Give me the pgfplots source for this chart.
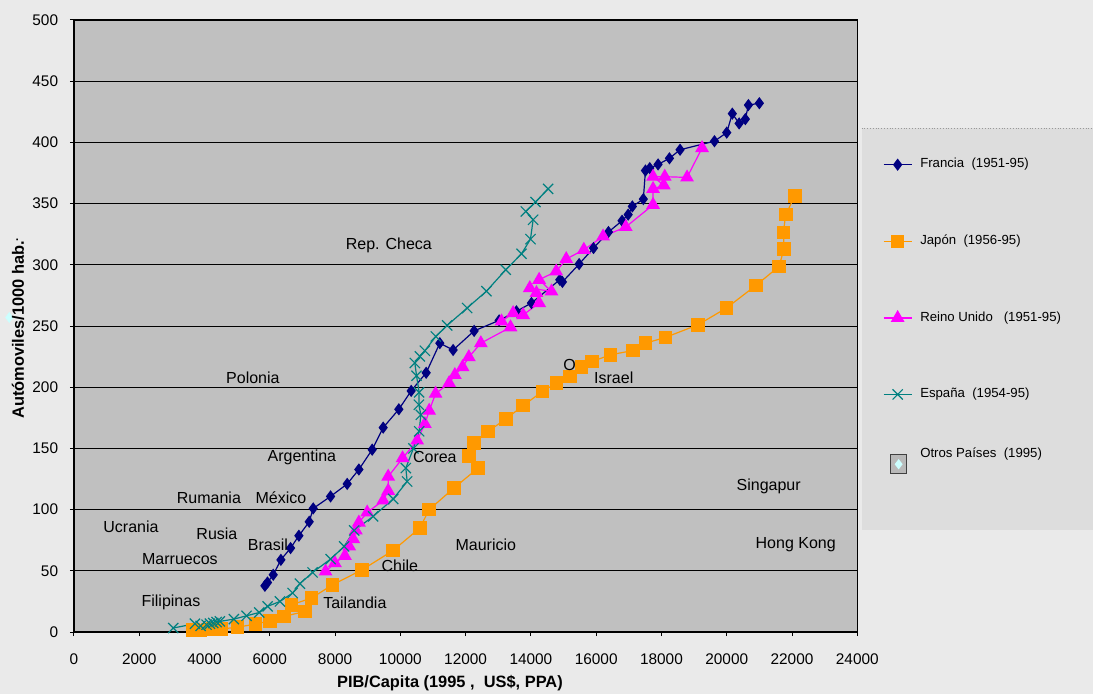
\documentclass[border=0pt]{standalone}
\usepackage{pgfplots}
\pgfplotsset{compat=1.18}
\usepackage{fontspec}
\setmainfont{Liberation Sans}
\definecolor{francia}{HTML}{000080}
\definecolor{japon}{HTML}{FF9900}
\definecolor{reino}{HTML}{FF00FF}
\definecolor{espana}{HTML}{008080}
\definecolor{otros}{HTML}{CCFFFF}
\definecolor{plotbg}{HTML}{C0C0C0}
\definecolor{outerbg}{HTML}{EAEAEA}
\definecolor{legbg}{HTML}{DDDDDD}
\begin{document}
\begin{tikzpicture}[x=1pt,y=1pt]
\fill[outerbg] (0,0) rectangle (546.5,347);
\fill[legbg] (431,82) rectangle (546.5,283);
\draw[gray!80, densely dotted, line width=0.4pt] (431,283) -- (546.5,283);
\begin{axis}[
  at={(37pt,30.85pt)}, anchor=south west,
  scale only axis, width=391.8pt, height=306.15pt,
  xmin=0, xmax=24000, ymin=0, ymax=500,
  xtick={0,2000,...,24000}, ytick={0,50,...,500},
  scaled x ticks=false,
  /pgf/number format/.cd, 1000 sep={}, assume math mode=true, /pgfplots/.cd,
  axis background/.style={fill=plotbg},
  ymajorgrids, grid style={black, line width=0.5pt},
  tick align=outside, tick pos=left, major tick length=2pt,
  tick style={black, line width=0.5pt},
  axis line style={black, line width=0.7pt},
  ticklabel style={font=\fontsize{7.7}{8}\selectfont},
  xticklabel style={yshift=-5.5pt},
  yticklabel style={xshift=-2.4pt},
  xlabel={PIB/Capita (1995 ,\ \ US\$, PPA)},
  ylabel={Autómoviles/1000 hab.\textsuperscript{.}},
  label style={font=\bfseries\fontsize{8.2}{9}\selectfont},
  xlabel style={at={(axis description cs:0.48,-0.0828)}, anchor=center},
  ylabel style={at={(axis description cs:-0.0715,0.497)}, anchor=center},
  clip=false,
  legend style={at={(1.0324,0.781)}, anchor=north west, draw=none, fill=none,
    inner sep=0pt, row sep=28pt, font=\fontsize{6.6}{7}\selectfont,
    cells={anchor=west},
    /tikz/every odd column/.append style={column sep=2pt}},
  legend image code/.code={\draw[mark repeat=2, mark phase=2, #1] plot coordinates {(0pt,0pt) (7pt,0pt) (14pt,0pt)};},
]
\addplot[francia, line width=0.6pt, mark=diamond*, mark size=2.6pt, mark options={solid, fill=francia}] coordinates {
(5850,37.8) (5930,40.5) (6105,46.8) (6340,59) (6636,68.6) (6891,78.7) (7207,90.1) (7330,101)
(7862,110.8) (8371,121) (8729,132.8) (9137,149) (9474,167) (9954,182) (10331,197) (10791,211.8)
(11210,236) (11617,230.4) (12260,246) (13026,254.6) (13557,262) (14017,268.8) (14885,287.8)
(14966,286) (15477,300.6) (15918,313.7) (16376,326.8) (16793,336) (16980,341) (17108,347.7)
(17445,353.7) (17510,377) (17642,379) (17896,382) (18245,387) (18570,394) (19624,401)
(20000,408) (20171,423.5) (20380,415.5) (20570,419) (20664,430.5) (20999,432)};
\addlegendentry{Francia\ \ (1951-95)}
\addplot[japon, line width=0.6pt, mark=square*, mark size=3.1pt, mark options={solid, fill=japon}] coordinates {
(3654,1.9) (3880,1.3) (4100,2) (4267,2.5) (4520,2.5) (5010,4) (5565,6.5) (6003,9.2) (6432,12.8)
(7075,16.8) (6667,22.3) (7279,27.8) (7923,38.6) (8831,50.9) (9780,66.7) (10597,85) (10883,100)
(11638,117.6) (12384,134) (12098,144) (12260,154.4) (12690,164) (13231,174) (13762,185)
(14355,196.6) (14784,203.4) (15191,208.8) (15550,216.5) (15874,221) (16437,226.5) (17130,230)
(17510,236) (18122,240.7) (19120,251) (19990,264.7) (20888,283) (21602,298.7) (21755,313)
(21736,326.5) (21807,341) (22083,356)};
\addlegendentry{Japón\ \ (1956-95)}
\addplot[reino, line width=0.6pt, mark=triangle*, mark size=3.4pt, mark options={solid, fill=reino}] coordinates {
(7708,49.5) (7994,56.4) (8300,62.3) (8433,70) (8556,76) (8637,83) (8729,89.5) (8984,97.7)
(9474,107.5) (9627,115.4) (9627,127) (10068,142) (10515,156.5) (10751,170) (10883,180.8)
(11079,194.7) (11495,203.4) (11670,210) (11906,216.5) (12098,224.6) (12466,236) (13375,249)
(13099,253.8) (13455,260.6) (13762,259) (14252,268.8) (14170,277) (13966,281) (14630,278.3)
(14252,287.8) (14775,294.6) (15082,304.7) (15622,312.3) (16212,323.2) (16906,330.9)
(17743,349) (17743,362) (18070,365) (17743,372) (18101,372) (18784,371.4) (19244,395.4)};
\addlegendentry{Reino Unido\ \ \ (1951-95)}
\addplot[espana, line width=0.6pt, mark=x, mark size=3.6pt, mark options={solid, line width=0.6pt}] coordinates {
(3042,3.3) (3706,6.8) (3880,5.1) (4063,6) (4165,6.8) (4267,7.4) (4370,8.2) (4471,8.7)
(4900,10.6) (5289,13.3) (5677,16) (5932,21) (6310,25) (6699,31.9) (6922,39.5) (7310,48.7)
(7862,59.6) (8279,70) (8585,83) (9167,94.5) (9780,108.7) (10208,123) (10168,134) (10400,150)
(10576,164) (10628,177.5) (10567,185.7) (10576,195.8) (10496,209.4) (10444,219.8) (10597,225.2)
(10751,229.8) (11087,241.5) (11434,250.5) (12046,264.7) (12639,278.5) (13231,296) (13712,309)
(13987,321) (14068,336.8) (13844,343.6) (14140,351.3) (14527,362)};
\addlegendentry{España\ \ (1954-95)}
\addplot[draw=none, mark=none, point meta=explicit symbolic, nodes near coords,
  every node near coord/.append style={anchor=center, text=black, font=\fontsize{8}{9}\selectfont},
  legend image code/.code={
    \draw[overlay, black!75, fill=gray!55, line width=0.5pt] (3.5pt,-3.75pt) rectangle (11.5pt,5.75pt);
    \fill[overlay, otros] (7.5pt,3.6pt) -- (9.5pt,1pt) -- (7.5pt,-1.6pt) -- (5.5pt,1pt) -- cycle;
    \path (0pt,0pt) -- (14pt,0pt);}]
 coordinates {
(9648,315.8) [Rep. Checa] (5482,207.8) [Polonia] (6983,142.5) [Argentina]
(4135,109.8) [Rumania] (6340,109.8) [México] (1746,86) [Ucrania] (4380,80.6) [Rusia]
(5942,71.5) [Brasil] (3247,60) [Marruecos] (2971,24) [Filipinas] (8606,24) [Tailandia]
(9985,54) [Chile] (12619,71.5) [Mauricio] (11057,143) [Corea] (15183,218) [O]
(16539,208) [Israel] (21286,119) [Singapur] (22113,71.5) [Hong Kong]};
\addlegendentry{\raisebox{3.6pt}[0pt][0pt]{Otros Países\ \ (1995)}}
\addplot[forget plot, only marks, mark=diamond*, mark size=2.4pt, color=otros] coordinates {(-1982,257)};
\end{axis}
\end{tikzpicture}
\end{document}
